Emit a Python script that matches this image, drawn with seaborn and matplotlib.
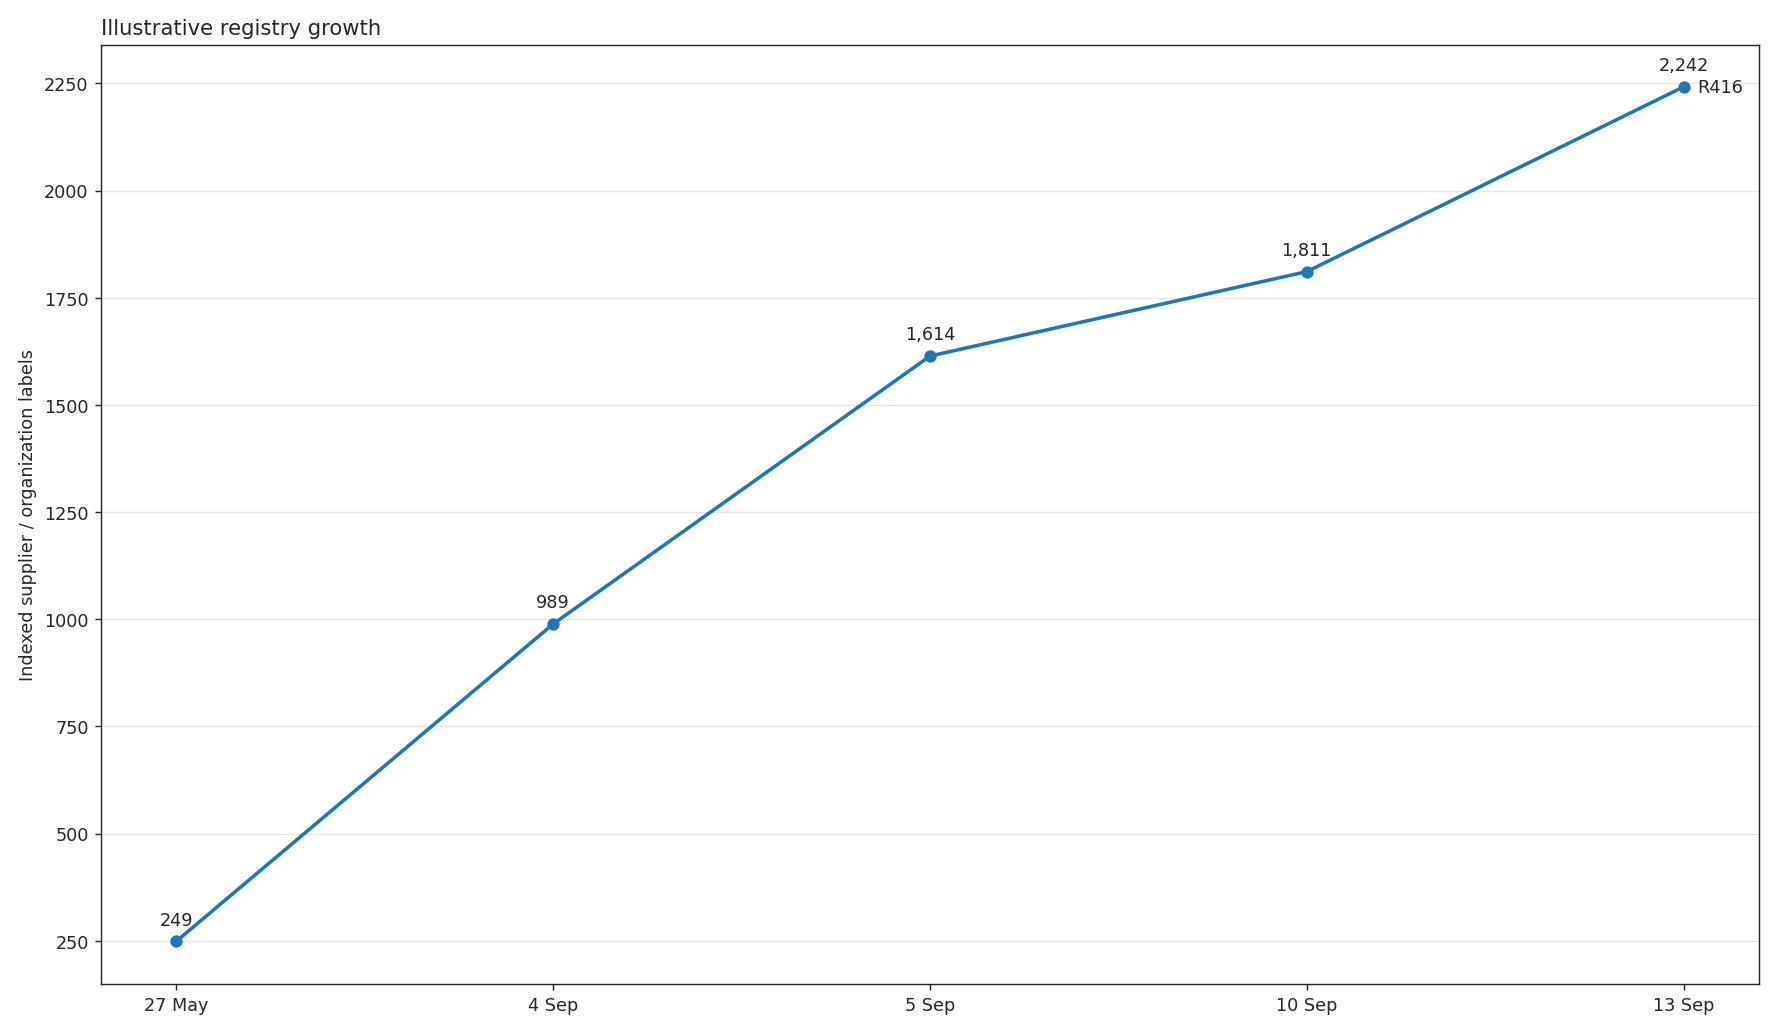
import matplotlib
matplotlib.use("Agg")
import matplotlib.pyplot as plt
import seaborn as sns
import pandas as pd

dates = ["27 May", "4 Sep", "5 Sep", "10 Sep", "13 Sep"]
counts = [249, 989, 1614, 1811, 2242]
last_tag = "R416"

df = pd.DataFrame({"date": dates, "count": counts, "pos": range(len(dates))})

sns.set_style("ticks")
plt.rcParams["font.family"] = ["DejaVu Sans"]
fig, ax = plt.subplots(figsize=(14, 8.14), dpi=127)

sns.lineplot(data=df, x="pos", y="count", ax=ax, color="#1f77b4", linewidth=2,
             marker="o", markersize=7, markeredgewidth=0)

for p, c in zip(df["pos"], df["count"]):
    ax.annotate(f"{c:,}", (p, c), textcoords="offset points", xytext=(0, 7),
                ha="center", va="bottom", fontsize=10)
ax.annotate(last_tag, (df["pos"].iloc[-1], counts[-1]), textcoords="offset points",
            xytext=(8, 0), ha="left", va="center", fontsize=10)

ax.set_xticks(df["pos"])
ax.set_xticklabels(dates)
ax.set_xlim(-0.2, len(dates) - 0.8)
ax.set_ylim(150, 2340)
ax.set_yticks(range(250, 2251, 250))
ax.yaxis.grid(True, color="#e6e6e6", linewidth=0.8)
ax.set_axisbelow(True)
ax.set_xlabel("")
ax.set_ylabel("Indexed supplier / organization labels")
ax.set_title("Illustrative registry growth", loc="left", fontsize=12)
for s in ax.spines.values():
    s.set_visible(True)

fig.tight_layout()
fig.savefig("out.png")
